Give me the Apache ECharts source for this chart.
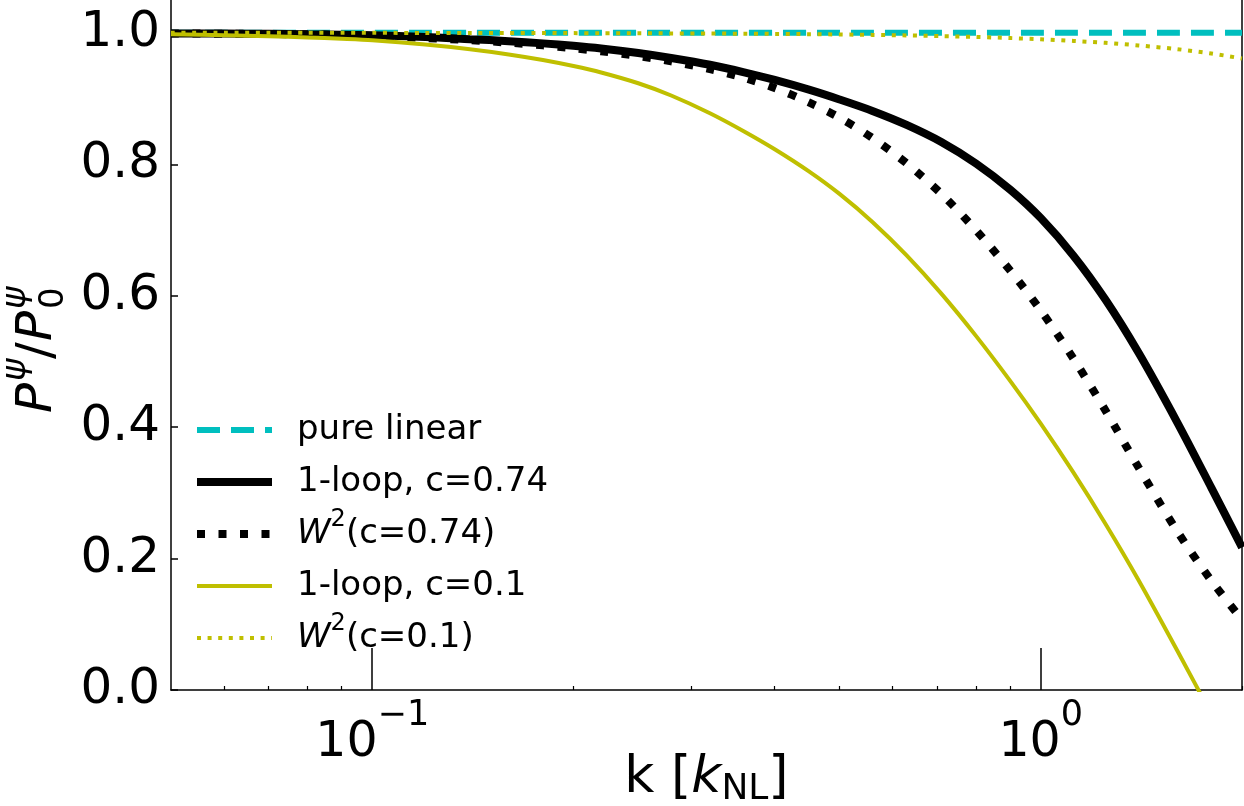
<!DOCTYPE html>
<html>
<head>
<meta charset="utf-8">
<script src="https://cdn.jsdelivr.net/npm/echarts@6/dist/echarts.min.js"></script>
<style>
html,body{margin:0;padding:0;background:#fff;overflow:hidden;}
#chart{width:1244px;height:806px;}
</style>
</head>
<body>
<div id="chart"></div>
<script>
// ---- data ----
const kValues   = [0.05, 0.06, 0.07, 0.08, 0.09, 0.1, 0.12, 0.14, 0.16, 0.18, 0.2, 0.22, 0.25, 0.28, 0.32, 0.36, 0.4, 0.45, 0.5, 0.56, 0.63, 0.71, 0.8, 0.9, 1.0, 1.12, 1.25, 1.4, 1.6, 1.8, 2.0];
const pureLinear = [1, 1, 1, 1, 1, 1, 1, 1, 1, 1, 1, 1, 1, 1, 1, 1, 1, 1, 1, 1, 1, 1, 1, 1, 1, 1, 1, 1, 1, 1, 1];
const oneLoop074 = [0.9992, 0.9989, 0.9985, 0.9978, 0.9971, 0.9962, 0.9938, 0.9904, 0.9874, 0.9840, 0.9804, 0.9763, 0.9693, 0.9617, 0.9514, 0.9400, 0.9283, 0.9135, 0.8986, 0.8812, 0.8599, 0.8339, 0.8012, 0.7614, 0.7181, 0.6606, 0.5938, 0.5135, 0.4074, 0.3076, 0.2169];
const w2c074     = [0.9990, 0.9987, 0.9983, 0.9977, 0.9969, 0.9954, 0.9922, 0.9889, 0.9851, 0.9810, 0.9766, 0.9720, 0.9647, 0.9567, 0.9450, 0.9315, 0.9161, 0.8942, 0.8710, 0.8400, 0.8015, 0.7550, 0.6997, 0.6383, 0.5778, 0.5038, 0.4252, 0.3389, 0.2416, 0.1663, 0.1072];
const oneLoop01  = [0.9977, 0.9965, 0.9948, 0.9930, 0.9909, 0.9886, 0.9822, 0.9751, 0.9672, 0.9587, 0.9495, 0.9397, 0.9233, 0.9047, 0.8777, 0.8500, 0.8229, 0.7892, 0.7549, 0.7123, 0.6614, 0.6032, 0.5389, 0.4704, 0.4053, 0.3303, 0.2527, 0.1675, 0.0602, -0.0371, -0.1245];
const w2c01      = [1.0000, 1.0000, 1.0000, 1.0000, 1.0000, 1.0000, 0.9999, 0.9998, 0.9997, 0.9997, 0.9996, 0.9995, 0.9994, 0.9992, 0.9990, 0.9987, 0.9984, 0.9980, 0.9975, 0.9969, 0.9961, 0.9951, 0.9938, 0.9921, 0.9902, 0.9877, 0.9848, 0.9809, 0.9752, 0.9686, 0.9610];
const seriesNames = ['pure linear', '1-loop, c=0.74', 'W2(c=0.74)', '1-loop, c=0.1', 'W2(c=0.1)'];
const xMajorTicks = [0.1, 1];
const xMinorTicks = [0.06, 0.07, 0.08, 0.09, 0.2, 0.3, 0.4, 0.5, 0.6, 0.7, 0.8, 0.9, 2];
const yTicks = [0, 0.2, 0.4, 0.6, 0.8, 1.0];

const FONT = 'DejaVu Sans';
const pairs = arr => kValues.map((k, i) => [k, arr[i]]);

const chart = echarts.init(document.getElementById('chart'), null, {renderer: 'canvas'});

function mkSeries(name, data, color, width, dash, z) {
  return {
    name: name, type: 'line', data: pairs(data), symbol: 'none', showSymbol: false,
    smooth: 0.3, z: z, xAxisIndex: 0, yAxisIndex: 0,
    lineStyle: {color: color, width: width, type: dash, cap: 'butt'},
    itemStyle: {color: color},
    emphasis: {disabled: true}
  };
}

const option = {
  animation: false,
  backgroundColor: '#fff',
  grid: {left: 171, right: 2, top: 0, bottom: 116, containLabel: false, outerBoundsMode: 'none'},
  legend: {
    orient: 'vertical', left: 193, top: 404, padding: 0,
    itemWidth: 75, itemHeight: 10, itemGap: 0,
    data: seriesNames,
    selectedMode: false,
    itemStyle: {opacity: 0},
    lineStyle: {width: 'inherit', type: 'inherit', cap: 'butt'},
    textStyle: {fontFamily: FONT, fontSize: 34, color: '#000', lineHeight: 52, padding: [0, 0, 0, 20],
      rich: {
        n: {fontFamily: FONT, fontSize: 34, color: '#000', lineHeight: 52},
        i: {fontFamily: FONT, fontSize: 34, fontStyle: 'italic', color: '#000', lineHeight: 52},
        sup: {fontFamily: FONT, fontSize: 24, color: '#000', lineHeight: 36, verticalAlign: 'top'}
      }},
    formatter: function (name) {
      if (name.indexOf('W2') === 0) {
        return '{i|W}{sup|2}{n|' + name.slice(2) + '}';
      }
      return '{n|' + name + '}';
    }
  },
  xAxis: [
    {
      type: 'log', logBase: 10, min: 0.05, max: 2, position: 'bottom',
      axisLine: {show: true, onZero: false, lineStyle: {color: '#000', width: 1.5}},
      axisTick: {show: true, inside: true, length: 4, customValues: xMinorTicks, lineStyle: {color: '#000', width: 1.2}},
      axisLabel: {show: false},
      splitLine: {show: false},
      name: '{n|k [}{i|k}{sub|NL}{n|]}',
      nameLocation: 'middle', nameGap: 58,
      nameTextStyle: {
        rich: {
          n: {fontFamily: FONT, fontSize: 52, color: '#000', lineHeight: 60},
          i: {fontFamily: FONT, fontSize: 52, fontStyle: 'italic', color: '#000', lineHeight: 60},
          sub: {fontFamily: FONT, fontSize: 36, color: '#000', lineHeight: 40, verticalAlign: 'bottom'}
        }
      }
    },
    {
      type: 'log', logBase: 10, min: 0.05, max: 2, position: 'bottom',
      axisLine: {show: false, onZero: false},
      axisTick: {show: true, inside: true, length: 42, customValues: xMajorTicks, lineStyle: {color: '#000', width: 1.5}},
      axisLabel: {
        show: true, customValues: xMajorTicks, margin: 8,
        formatter: function (v) {
          const p = Math.round(Math.log10(v));
          return '{b|10}{s|' + (p < 0 ? '\u2212' + (-p) : String(p)) + '}';
        },
        rich: {
          b: {fontFamily: FONT, fontSize: 49, color: '#000', lineHeight: 70, verticalAlign: 'bottom'},
          s: {fontFamily: FONT, fontSize: 35, color: '#000', lineHeight: 40, verticalAlign: 'top'}
        }
      },
      splitLine: {show: false}
    }
  ],
  yAxis: [
    {
      type: 'value', min: 0, max: 1.05, position: 'left',
      axisLine: {show: true, onZero: false, lineStyle: {color: '#000', width: 1.5}},
      axisTick: {show: true, inside: true, length: 7, customValues: yTicks, lineStyle: {color: '#000', width: 1.5}},
      axisLabel: {show: true, customValues: yTicks, margin: 11, fontFamily: FONT, fontSize: 50, color: '#000',
        formatter: v => v.toFixed(1)},
      splitLine: {show: false}
    },
    {
      type: 'value', min: 0, max: 1.05, position: 'right',
      axisLine: {show: true, onZero: false, lineStyle: {color: '#000', width: 1.5}},
      axisTick: {show: false}, axisLabel: {show: false}, splitLine: {show: false}
    }
  ],
  series: [
    mkSeries(seriesNames[0], pureLinear, '#00bfbf', 6, [23, 11], 2),
    mkSeries(seriesNames[1], oneLoop074, '#000000', 8, 'solid', 3),
    mkSeries(seriesNames[2], w2c074, '#000000', 8, [8, 13.5], 4),
    mkSeries(seriesNames[3], oneLoop01, '#bfbf00', 4, 'solid', 5),
    mkSeries(seriesNames[4], w2c01, '#bfbf00', 4, [4, 6.6], 6)
  ],
  graphic: [
    {
      type: 'group', x: 38, y: 345, rotation: Math.PI / 2,
      children: [
        {type: 'text', x: -68, y: 0, style: {text: 'P', font: 'italic 50px "DejaVu Sans"', fill: '#000', verticalAlign: 'middle', align: 'left'}},
        {type: 'text', x: -36, y: -22, style: {text: '\u03c8', font: 'italic 34px "DejaVu Sans"', fill: '#000', verticalAlign: 'middle', align: 'left'}},
        {type: 'text', x: -14, y: 0, style: {text: '/', font: '50px "DejaVu Sans"', fill: '#000', verticalAlign: 'middle', align: 'left'}},
        {type: 'text', x: 4, y: 0, style: {text: 'P', font: 'italic 50px "DejaVu Sans"', fill: '#000', verticalAlign: 'middle', align: 'left'}},
        {type: 'text', x: 36, y: -22, style: {text: '\u03c8', font: 'italic 34px "DejaVu Sans"', fill: '#000', verticalAlign: 'middle', align: 'left'}},
        {type: 'text', x: 36, y: 16, style: {text: '0', font: '34px "DejaVu Sans"', fill: '#000', verticalAlign: 'middle', align: 'left'}}
      ]
    }
  ]
};
chart.setOption(option);
</script>
</body>
</html>
